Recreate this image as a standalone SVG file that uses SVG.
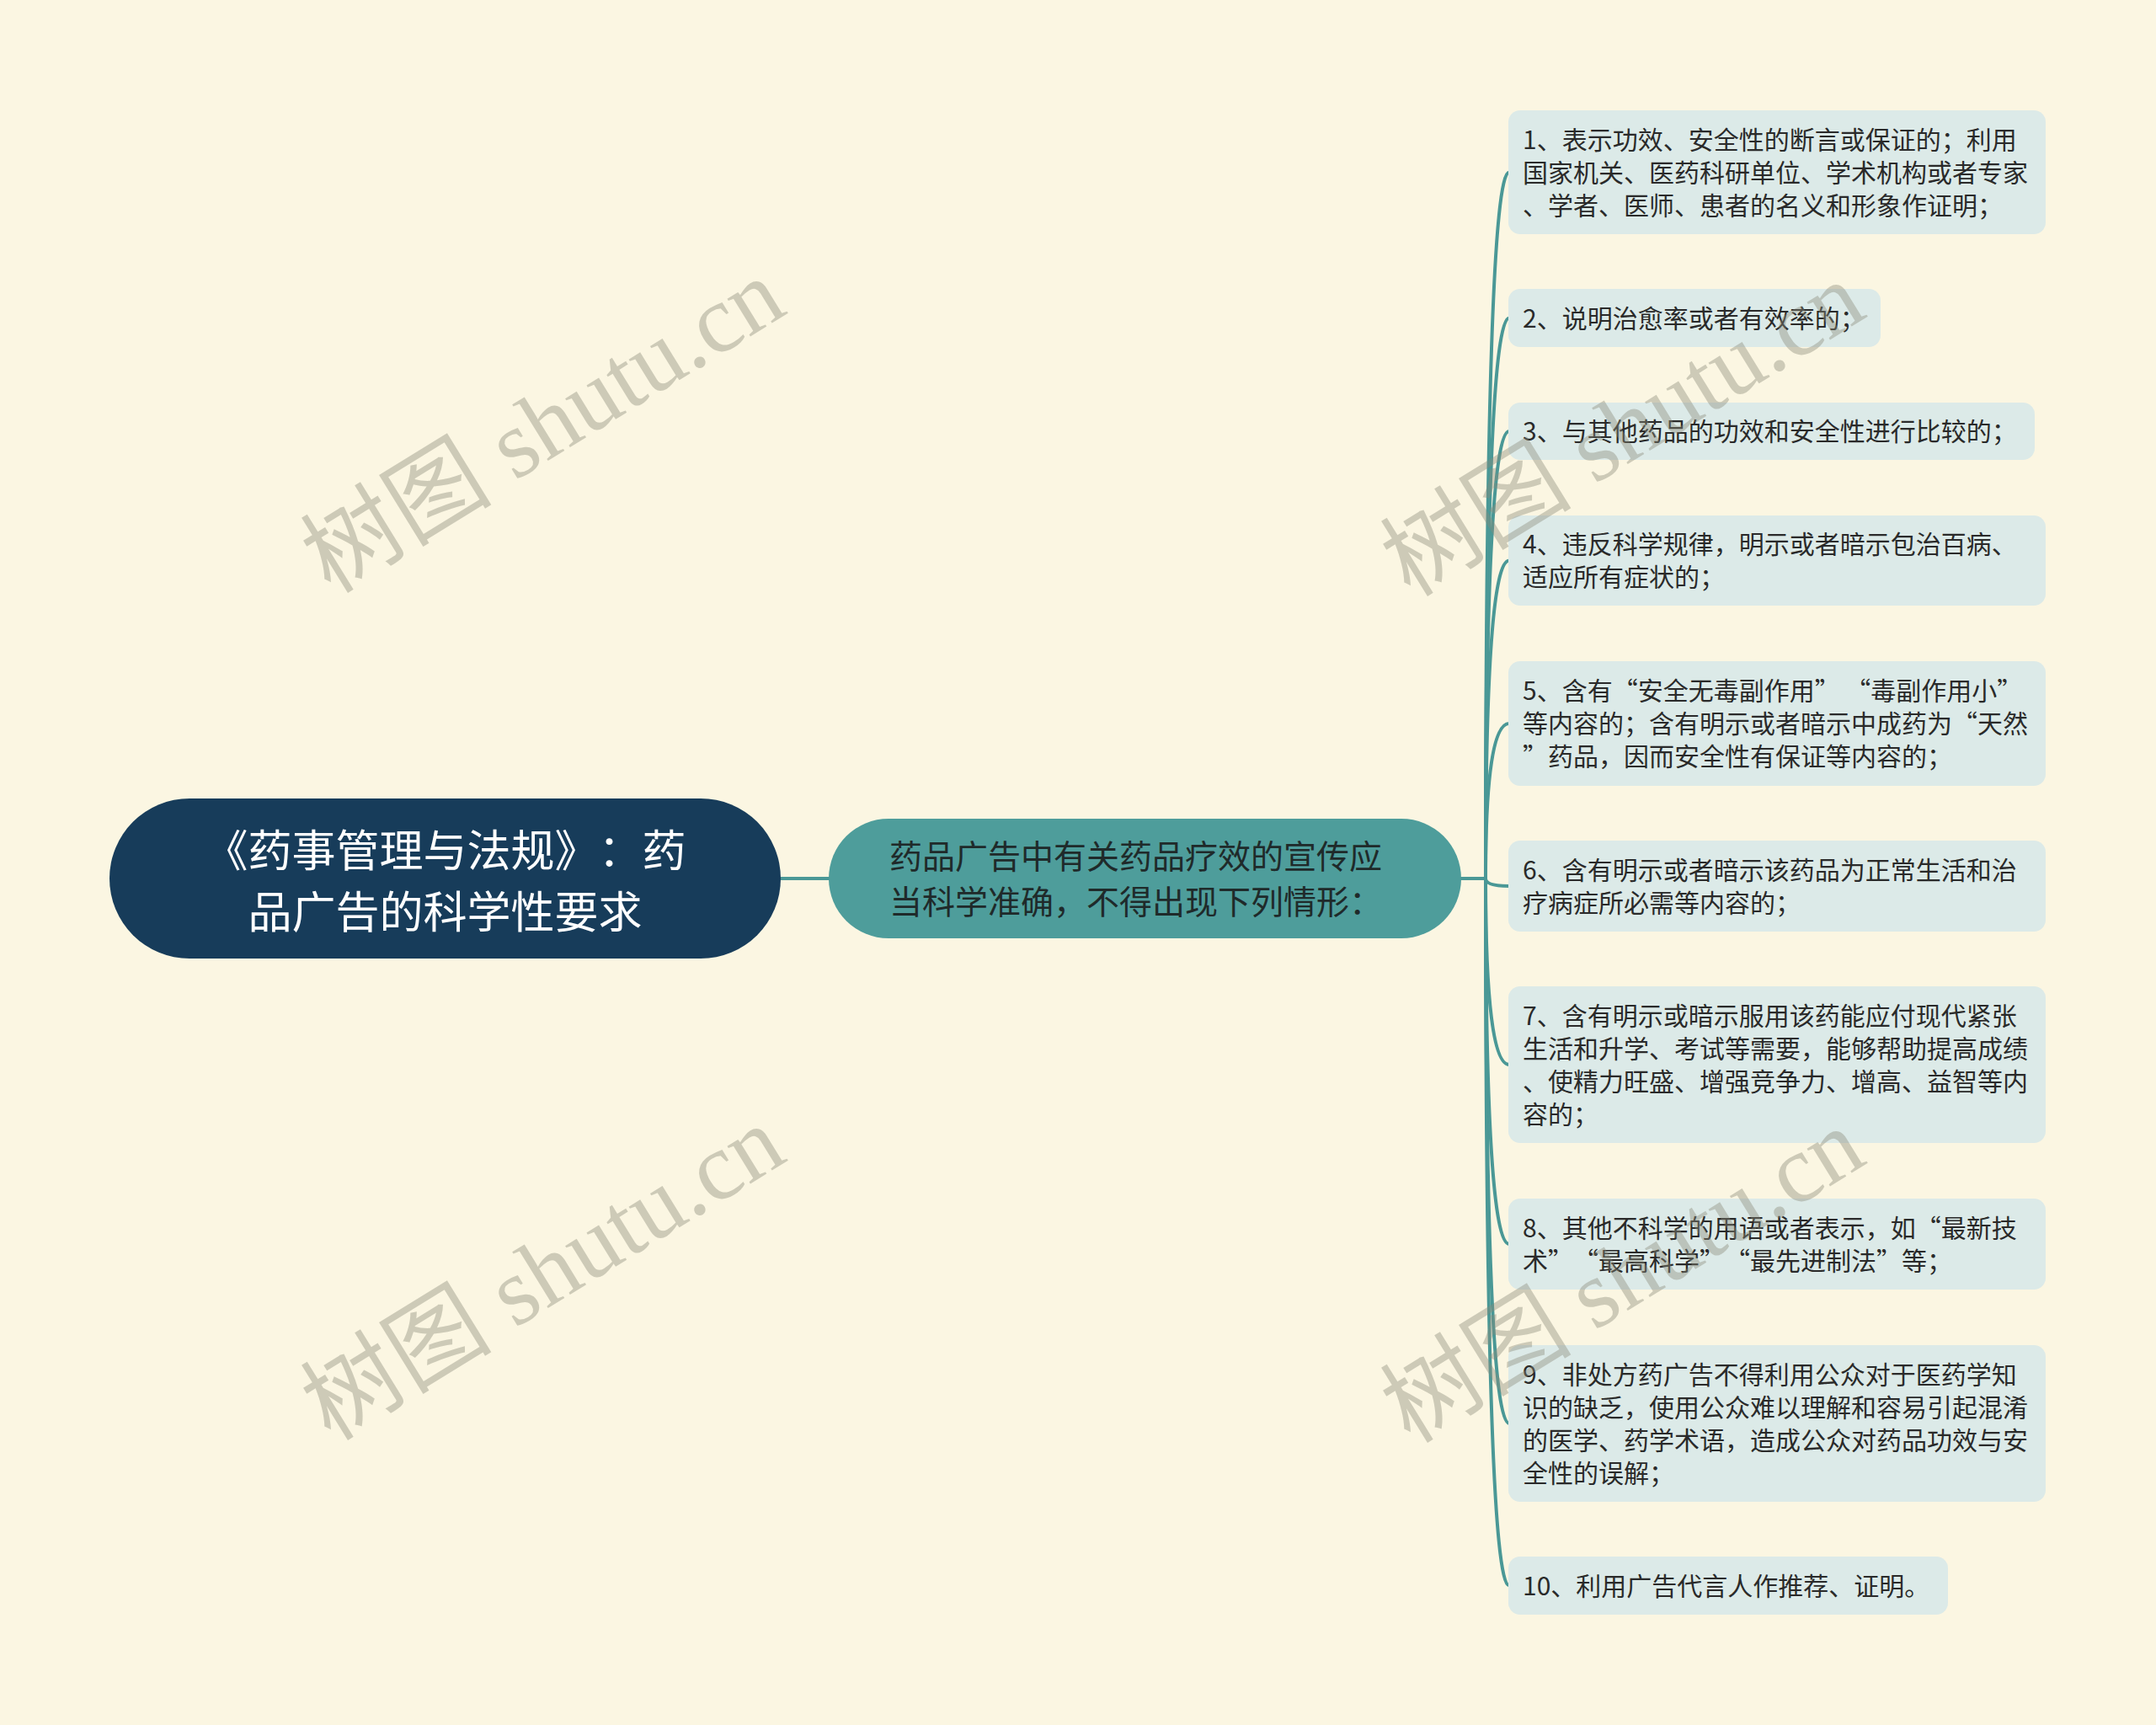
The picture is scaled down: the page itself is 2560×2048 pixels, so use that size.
<svg xmlns="http://www.w3.org/2000/svg" width="2560" height="2048" viewBox="0 0 2560 2048">
<style>
text{text-spacing-trim:space-all}
.bg{fill:#FBF6E2}
.root{fill:#173C5A}
.main{fill:#4E9D9B}
.box{fill:#DCEAE8}
.rt{font-family:"Noto Sans CJK SC","Noto Sans",sans-serif;font-size:52px;fill:#FFFFFF;text-anchor:middle}
.mt{font-family:"Noto Sans CJK SC","Noto Sans",sans-serif;font-size:39px;fill:#1F2A2A}
.bt{font-family:"Noto Sans CJK SC","Noto Sans",sans-serif;font-size:30px;fill:#2A2A2A}
.ln{fill:none;stroke:#4A9896;stroke-width:4;stroke-linecap:round}
.wm{font-family:"Liberation Serif","Noto Sans CJK SC",serif;font-size:114px;fill:#8A8A78;fill-opacity:0.4}
</style>
<rect class="bg" x="0" y="0" width="2560" height="2048"/>
<g id="connectors">
<path class="ln" d="M927 1043 H986"/>
<path class="ln" d="M1733 1043 H1764"/>
<path class="ln" d="M1764 1043 Q1764 204.5 1792 204.5"/>
<path class="ln" d="M1764 1043 Q1764 377.5 1792 377.5"/>
<path class="ln" d="M1764 1043 Q1764 512 1792 512"/>
<path class="ln" d="M1764 1043 Q1764 665.5 1792 665.5"/>
<path class="ln" d="M1764 1043 Q1764 859 1792 859"/>
<path class="ln" d="M1764 1043 Q1764 1052 1792 1052"/>
<path class="ln" d="M1764 1043 Q1764 1264 1792 1264"/>
<path class="ln" d="M1764 1043 Q1764 1477 1792 1477"/>
<path class="ln" d="M1764 1043 Q1764 1690 1792 1690"/>
<path class="ln" d="M1764 1043 Q1764 1882.5 1792 1882.5"/>
</g>
<g id="root">
<rect class="root" x="130" y="948" width="797" height="190" rx="95"/>
<text class="rt" x="528.5" y="1029">《药事管理与法规》：药</text>
<text class="rt" x="528.5" y="1102">品广告的科学性要求</text>
</g>
<g id="main">
<rect class="main" x="984" y="972" width="751" height="142" rx="71"/>
<text class="mt" x="1056" y="1031">药品广告中有关药品疗效的宣传应</text>
<text class="mt" x="1056" y="1085">当科学准确，不得出现下列情形：</text>
</g>
<g id="item1">
<rect class="box" x="1791" y="131" width="638" height="147" rx="14"/>
<text class="bt" x="1808" y="177">1、表示功效、安全性的断言或保证的；利用</text>
<text class="bt" x="1808" y="216">国家机关、医药科研单位、学术机构或者专家</text>
<text class="bt" x="1808" y="255">、学者、医师、患者的名义和形象作证明；</text>
</g>
<g id="item2">
<rect class="box" x="1791" y="343" width="442" height="69" rx="14"/>
<text class="bt" x="1808" y="388.5">2、说明治愈率或者有效率的；</text>
</g>
<g id="item3">
<rect class="box" x="1791" y="478" width="625" height="68" rx="14"/>
<text class="bt" x="1808" y="523">3、与其他药品的功效和安全性进行比较的；</text>
</g>
<g id="item4">
<rect class="box" x="1791" y="612" width="638" height="107" rx="14"/>
<text class="bt" x="1808" y="657">4、违反科学规律，明示或者暗示包治百病、</text>
<text class="bt" x="1808" y="696">适应所有症状的；</text>
</g>
<g id="item5">
<rect class="box" x="1791" y="785" width="638" height="148" rx="14"/>
<text class="bt" x="1808" y="831">5、含有“安全无毒副作用” “毒副作用小”</text>
<text class="bt" x="1808" y="870">等内容的；含有明示或者暗示中成药为“天然</text>
<text class="bt" x="1808" y="909">”药品，因而安全性有保证等内容的；</text>
</g>
<g id="item6">
<rect class="box" x="1791" y="998" width="638" height="108" rx="14"/>
<text class="bt" x="1808" y="1043.5">6、含有明示或者暗示该药品为正常生活和治</text>
<text class="bt" x="1808" y="1082.5">疗病症所必需等内容的；</text>
</g>
<g id="item7">
<rect class="box" x="1791" y="1171" width="638" height="186" rx="14"/>
<text class="bt" x="1808" y="1216.5">7、含有明示或暗示服用该药能应付现代紧张</text>
<text class="bt" x="1808" y="1255.5">生活和升学、考试等需要，能够帮助提高成绩</text>
<text class="bt" x="1808" y="1294.5">、使精力旺盛、增强竞争力、增高、益智等内</text>
<text class="bt" x="1808" y="1333.5">容的；</text>
</g>
<g id="item8">
<rect class="box" x="1791" y="1423" width="638" height="108" rx="14"/>
<text class="bt" x="1808" y="1468.5">8、其他不科学的用语或者表示，如“最新技</text>
<text class="bt" x="1808" y="1507.5">术”“最高科学”“最先进制法”等；</text>
</g>
<g id="item9">
<rect class="box" x="1791" y="1597" width="638" height="186" rx="14"/>
<text class="bt" x="1808" y="1642.5">9、非处方药广告不得利用公众对于医药学知</text>
<text class="bt" x="1808" y="1681.5">识的缺乏，使用公众难以理解和容易引起混淆</text>
<text class="bt" x="1808" y="1720.5">的医学、药学术语，造成公众对药品功效与安</text>
<text class="bt" x="1808" y="1759.5">全性的误解；</text>
</g>
<g id="item10">
<rect class="box" x="1791" y="1848" width="522" height="69" rx="14"/>
<text class="bt" x="1808" y="1893.5">10、利用广告代言人作推荐、证明。</text>
</g>
<g id="watermarks">
<text class="wm" transform="translate(645 506) rotate(-31.6)" text-anchor="middle" y="38">树图 shutu.cn</text>
<text class="wm" transform="translate(645 1512) rotate(-31.6)" text-anchor="middle" y="38">树图 shutu.cn</text>
<text class="wm" transform="translate(1927 510) rotate(-31.6)" text-anchor="middle" y="38">树图 shutu.cn</text>
<text class="wm" transform="translate(1927 1515) rotate(-31.6)" text-anchor="middle" y="38">树图 shutu.cn</text>
</g>
</svg>
